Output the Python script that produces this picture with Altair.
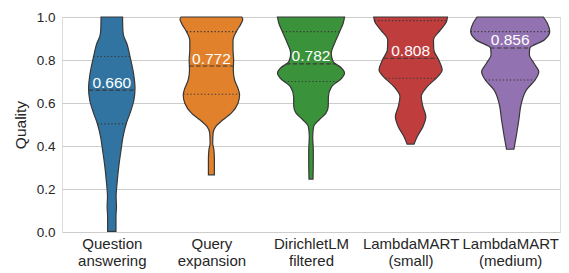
import json
import numpy as np
import pandas as pd
import altair as alt

# ---------------- data ----------------
categories = ["Question\nanswering", "Query\nexpansion", "DirichletLM\nfiltered",
              "LambdaMART\n(small)", "LambdaMART\n(medium)"]
colors = ["#3274a1", "#e1812c", "#3a923a", "#c03d3e", "#9372b2"]
medians = [0.660, 0.772, 0.782, 0.808, 0.856]
q1 = [0.503, 0.641, 0.700, 0.715, 0.707]
q3 = [0.816, 0.932, 0.932, 0.983, 0.932]
y_ticks = [0.0, 0.2, 0.4, 0.6, 0.8, 1.0]

# violin profiles: quality value and half-width (in 1/100 of category spacing)
qa_y = [0.003, 0.073, 0.119, 0.165, 0.228, 0.305, 0.382, 0.444, 0.507, 0.553,
        0.614, 0.669, 0.738, 0.816, 0.878, 0.916, 0.950, 1.000]
qa_w = [4.2, 4.2, 4.7, 4.3, 5.3, 7.0, 9.3, 11.3, 14.7, 18.3,
        22.2, 23.3, 21.8, 18.3, 15.0, 11.7, 11.0, 10.8]

qe_y = [0.266, 0.336, 0.382, 0.413, 0.460, 0.491, 0.522, 0.553, 0.599, 0.638,
        0.661, 0.707, 0.754, 0.800, 0.847, 0.893, 0.932, 0.971, 0.990, 1.000]
qe_w = [3.0, 3.0, 2.5, 1.3, 1.7, 4.5, 11.7, 20.0, 26.7, 28.3,
        27.2, 23.3, 22.0, 22.3, 21.7, 21.7, 25.0, 30.0, 31.5, 30.5]

dl_y = [0.246, 0.289, 0.336, 0.382, 0.444, 0.491, 0.522, 0.553, 0.584, 0.630,
        0.676, 0.715, 0.738, 0.764, 0.792, 0.831, 0.878, 0.932, 0.971, 1.000]
dl_w = [2.0, 2.2, 2.3, 2.3, 1.7, 2.7, 8.3, 15.0, 17.3, 17.5,
        20.7, 30.7, 33.7, 30.3, 22.3, 20.3, 23.7, 28.8, 32.3, 33.7]

ls_y = [0.409, 0.444, 0.491, 0.537, 0.584, 0.630, 0.676, 0.723, 0.754, 0.800,
        0.847, 0.893, 0.940, 0.978, 1.000]
ls_w = [3.5, 6.7, 12.5, 15.3, 12.3, 10.7, 16.7, 27.3, 31.7, 28.3,
        23.3, 23.0, 30.0, 36.0, 37.0]

lm_y = [0.385, 0.444, 0.522, 0.599, 0.661, 0.707, 0.745, 0.786, 0.825, 0.855,
        0.893, 0.932, 0.971, 1.000]
lm_w = [3.7, 6.0, 8.7, 11.2, 16.3, 25.0, 28.7, 23.7, 19.2, 19.7,
        34.2, 39.7, 37.3, 33.3]

profiles = [(qa_y, qa_w), (qe_y, qe_w), (dl_y, dl_w), (ls_y, ls_w), (lm_y, lm_w)]
WIDTH_UNIT = 100.0

# ---------------- tables ----------------
rows = []
for i, (ys, ws) in enumerate(profiles):
    for y, w in zip(ys, ws):
        rows.append({"cat": categories[i], "y": y,
                     "x": i - w / WIDTH_UNIT, "x2": i + w / WIDTH_UNIT})
df_v = pd.DataFrame(rows)

qrows = []
for i, (ys, ws) in enumerate(profiles):
    for kind, val in (("q1", q1[i]), ("median", medians[i]), ("q3", q3[i])):
        w = float(np.interp(val, ys, ws))
        qrows.append({"cat": categories[i], "kind": kind, "y": val,
                      "x": i - w / WIDTH_UNIT, "x2": i + w / WIDTH_UNIT})
df_q = pd.DataFrame(qrows)

df_t = pd.DataFrame({"idx": list(range(len(categories))), "median": medians,
                     "label": [f"{m:.3f}" for m in medians]})

# ---------------- chart ----------------
label_lines = json.dumps([c.split("\n") for c in categories])
x_scale = alt.Scale(domain=[-0.5, len(categories) - 0.5], nice=False, zero=False)
y_scale = alt.Scale(domain=[0, 1], nice=False)

x_axis = alt.Axis(values=list(range(len(categories))),
                  labelExpr=f"{label_lines}[datum.value]",
                  grid=False, ticks=False, domain=False, title=None,
                  labelFontSize=15, labelLineHeight=17.5, labelPadding=4,
                  labelColor="#262626", labelOverlap=False)
y_axis = alt.Axis(values=y_ticks, format=".1f", title="Quality",
                  grid=True, gridColor="#cccccc", gridWidth=1,
                  ticks=False, domain=False,
                  labelFontSize=13.5, labelColor="#262626", labelPadding=7,
                  titleFontSize=15.5, titleFontWeight="normal",
                  titleColor="#262626", titlePadding=8)

violins = alt.Chart(df_v).mark_area(
    orient="horizontal", interpolate="monotone",
    stroke="#383838", strokeWidth=1.2, opacity=1
).encode(
    y=alt.Y("y:Q", scale=y_scale, axis=y_axis),
    x=alt.X("x:Q", scale=x_scale, axis=x_axis, stack=None),
    x2="x2:Q",
    color=alt.Color("cat:N", scale=alt.Scale(domain=categories, range=colors),
                    legend=None),
)

median_lines = alt.Chart(df_q).transform_filter(
    alt.datum.kind == "median"
).mark_rule(color="#383838", strokeWidth=1.1, strokeDash=[4.5, 2.2]).encode(
    y="y:Q", x="x:Q", x2="x2:Q"
)

quart_lines = alt.Chart(df_q).transform_filter(
    alt.datum.kind != "median"
).mark_rule(color="#383838", strokeWidth=1.1, strokeDash=[1.3, 2.2]).encode(
    y="y:Q", x="x:Q", x2="x2:Q"
)

texts = alt.Chart(df_t).mark_text(
    color="white", fontSize=15.5, baseline="alphabetic", align="center", dy=-2.5
).encode(
    x="idx:Q", y="median:Q", text="label:N"
)

chart = alt.layer(violins, quart_lines, median_lines, texts).properties(
    width=498, height=215,
    autosize=alt.AutoSizeParams(type="none"),
    padding={"left": 54, "top": 9, "right": 1, "bottom": 41},
    background="white",
).configure_view(stroke=None).configure(font="Liberation Sans")

chart.save("out.html", embed_options={"renderer": "svg", "actions": False})
